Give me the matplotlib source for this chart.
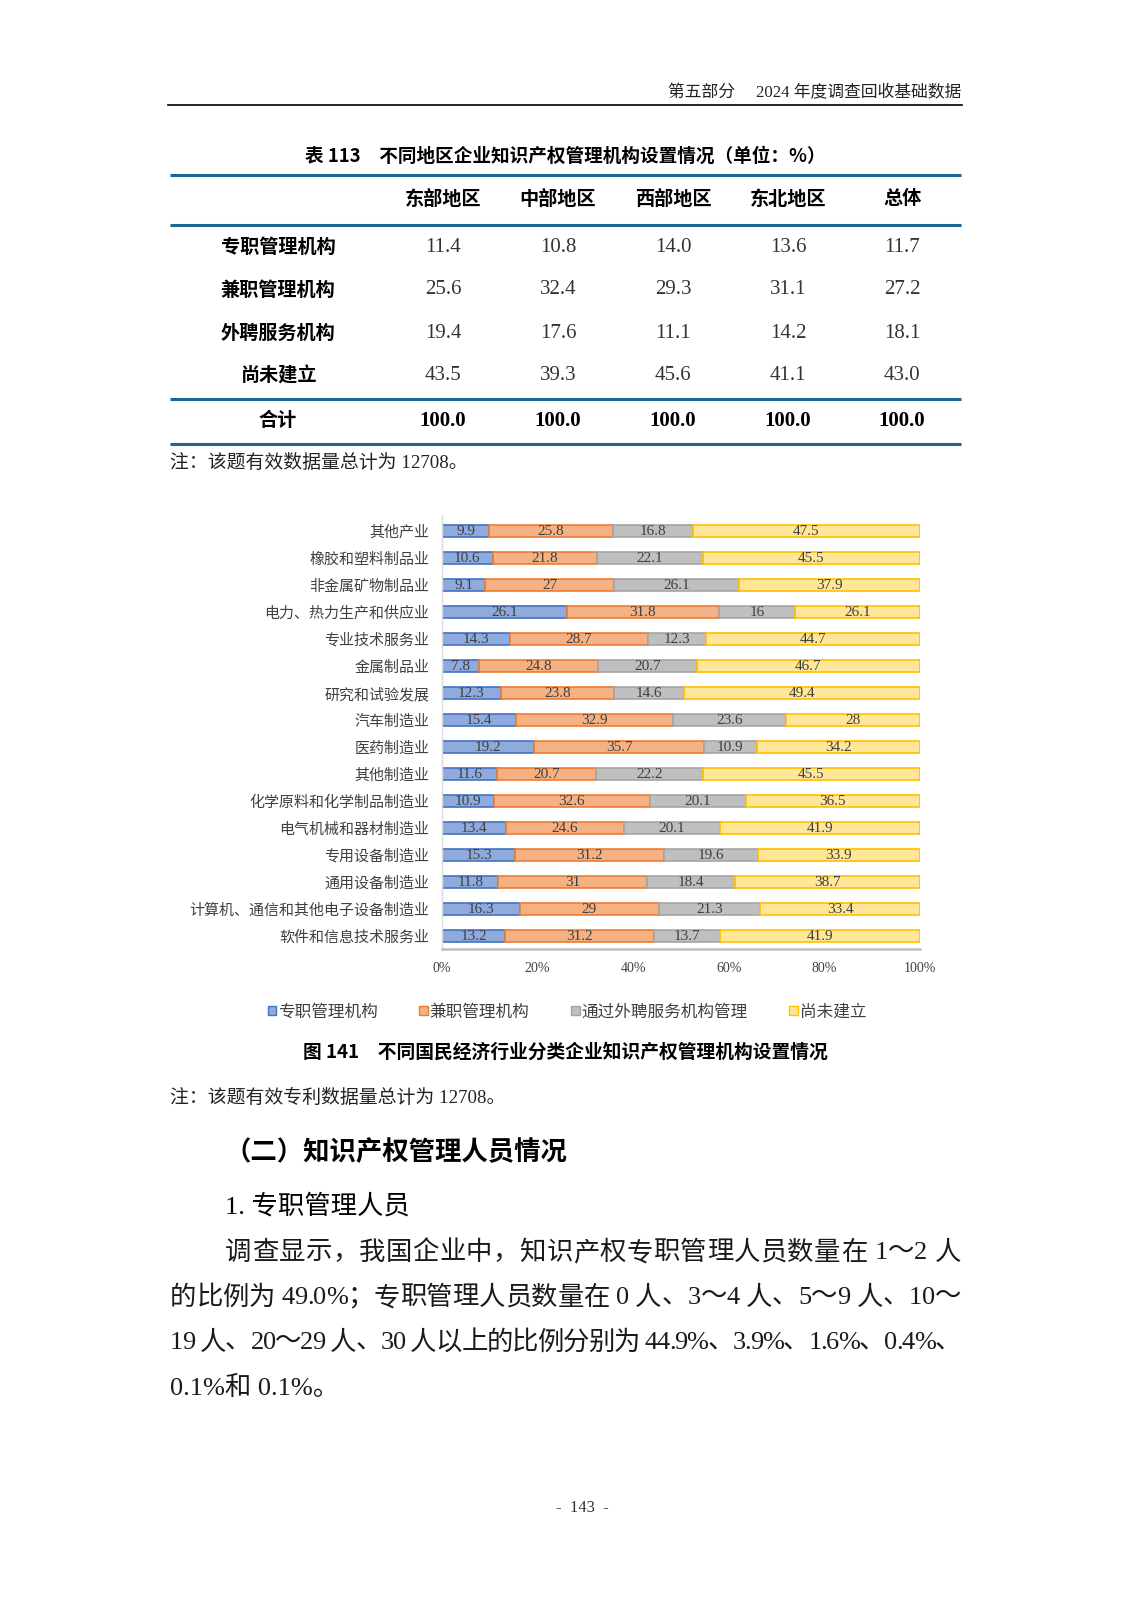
import matplotlib
matplotlib.use("Agg")
import matplotlib.pyplot as plt
from matplotlib.patches import Patch
from matplotlib.font_manager import findfont, FontProperties
from matplotlib.ft2font import FT2Font
import numpy as np

SERIF = ['Liberation Serif', 'Noto Sans CJK SC']
SANS = ['Noto Sans CJK SC', 'DejaVu Sans']
plt.rcParams['font.family'] = SERIF

# ---- table data ----
regions = ['东部地区', '中部地区', '西部地区', '东北地区', '总体']
table_rows = ['专职管理机构', '兼职管理机构', '外聘服务机构', '尚未建立']
table_vals = [
    [11.4, 10.8, 14.0, 13.6, 11.7],
    [25.6, 32.4, 29.3, 31.1, 27.2],
    [19.4, 17.6, 11.1, 14.2, 18.1],
    [43.5, 39.3, 45.6, 41.1, 43.0],
]
total_vals = [100.0, 100.0, 100.0, 100.0, 100.0]

# ---- chart data (top to bottom) ----
industries = ['其他产业', '橡胶和塑料制品业', '非金属矿物制品业', '电力、热力生产和供应业',
              '专业技术服务业', '金属制品业', '研究和试验发展', '汽车制造业', '医药制造业',
              '其他制造业', '化学原料和化学制品制造业', '电气机械和器材制造业',
              '专用设备制造业', '通用设备制造业', '计算机、通信和其他电子设备制造业',
              '软件和信息技术服务业']
series_names = ['专职管理机构', '兼职管理机构', '通过外聘服务机构管理', '尚未建立']
full_time = [9.9, 10.6, 9.1, 26.1, 14.3, 7.8, 12.3, 15.4, 19.2, 11.6, 10.9, 13.4, 15.3, 11.8, 16.3, 13.2]
part_time = [25.8, 21.8, 27, 31.8, 28.7, 24.8, 23.8, 32.9, 35.7, 20.7, 32.6, 24.6, 31.2, 31, 29, 31.2]
outsourced = [16.8, 22.1, 26.1, 16, 12.3, 20.7, 14.6, 23.6, 10.9, 22.2, 20.1, 20.1, 19.6, 18.4, 21.3, 13.7]
not_built = [47.5, 45.5, 37.9, 26.1, 44.7, 46.7, 49.4, 28, 34.2, 45.5, 36.5, 41.9, 33.9, 38.7, 33.4, 41.9]
x_ticks = [0, 20, 40, 60, 80, 100]

fills = ['#8FAADC', '#F4B183', '#BFBFBF', '#FFE699']
edges = ['#4472C4', '#ED7D31', '#A5A5A5', '#FFC000']

W, H = 1131, 1600
fig = plt.figure(figsize=(W / 100, H / 100), dpi=100)
page = fig.add_axes([0, 0, 1, 1])
page.set_xlim(0, W)
page.set_ylim(H, 0)
page.axis('off')

# fonts for measuring character advances (justified paragraph)
_ft = [FT2Font(findfont(FontProperties(family=f)), hinting_factor=1) for f in SERIF]


def advance(c, size):
    for f in _ft:
        if f.get_char_index(ord(c)):
            f.set_size(size, 100)
            return f.load_char(ord(c)).linearHoriAdvance / 65536.0
    return size * 100 / 72 * 0.5


def justified(x0, x1, y, s, size):
    widths = [advance(c, size) for c in s]
    gap = (x1 - x0 - sum(widths)) / (len(s) - 1)
    x = x0
    for c, w in zip(s, widths):
        if c != ' ':
            page.text(x, y, c, ha='left', va='center', fontsize=size, family=SERIF,
                      color='#1a1a1a')
        x += w + gap


# header
page.text(961, 93, '第五部分\u3000 2024 年度调查回收基础数据', ha='right', va='center',
          fontsize=12.1, family=SERIF, color='#222222')
page.plot([168, 962], [105, 105], color='black', lw=1.2)

# table
TB = '#1F6493'
page.text(565, 156, '表 113\u3000不同地区企业知识产权管理机构设置情况（单位：%）', ha='center',
          va='center', fontsize=13.4, fontweight='bold', family=SANS)
for y in [175, 225, 399, 444]:
    page.plot([170, 961], [y, y], color=TB, lw=2.2, solid_capstyle='butt')
col_x = [443, 558, 673, 788, 902]
for cx, r in zip(col_x, regions):
    page.text(cx, 199, r, ha='center', va='center', fontsize=13.8, fontweight='bold', family=SANS)
row_y = [247, 290, 333, 376]
for ry, name, vals in zip(row_y, table_rows, table_vals):
    page.text(278, ry, name, ha='center', va='center', fontsize=13.8, fontweight='bold', family=SANS)
    for cx, v in zip(col_x, vals):
        page.text(cx, ry, '%.1f' % v, ha='center', va='center', fontsize=15, family=SERIF,
                  color='#333333')
page.text(278, 421, '合计', ha='center', va='center', fontsize=13.8, fontweight='bold', family=SANS)
for cx, v in zip(col_x, total_vals):
    page.text(cx, 421, '%.1f' % v, ha='center', va='center', fontsize=15, fontweight='bold',
              family=SERIF)
page.text(170, 463, '注：该题有效数据量总计为 12708。', ha='left', va='center', fontsize=13.6,
          family=SERIF, color='#222222')

# chart
ax = fig.add_axes([442 / W, 1 - 949 / H, 478 / W, 434 / H])
data = np.array([full_time, part_time, outsourced, not_built])
norm = data / data.sum(axis=0) * 100
ypos = np.arange(len(industries))
left = np.zeros(len(industries))
for i in range(4):
    bars = ax.barh(ypos, norm[i], left=left, height=0.47, color=fills[i], edgecolor=edges[i],
                   linewidth=1.2, label=series_names[i])
    ax.bar_label(bars, labels=['%g' % v for v in data[i]], label_type='center', fontsize=11,
                 color='#404040', family=SERIF)
    left += norm[i]
ax.set_xlim(0, 100)
ax.set_ylim(15.48, -0.593)
ax.set_yticks(ypos)
ax.set_yticklabels(industries, fontsize=10.8, color='#404040', family=SANS)
ax.set_xticks(x_ticks)
ax.set_xticklabels(['%d%%' % t for t in x_ticks], fontsize=10, color='#404040', family=SERIF)
ax.tick_params(length=0)
ax.tick_params(axis='y', pad=9)
ax.tick_params(axis='x', pad=9)
for s in ['top', 'right']:
    ax.spines[s].set_visible(False)
ax.spines['left'].set_color('#D9D9D9')
ax.spines['left'].set_linewidth(1)
ax.spines['bottom'].set_color('#BFBFBF')
ax.spines['bottom'].set_linewidth(1.8)
ax.patch.set_visible(False)

handles = [Patch(facecolor=f, edgecolor=e, linewidth=1) for f, e in zip(fills, edges)]
fig.legend(handles, series_names, loc='center', bbox_to_anchor=(567 / W, 1 - 1012 / H), ncol=4,
           frameon=False, handlelength=0.5, handleheight=0.5, handletextpad=0.12,
           columnspacing=2.5, prop={'family': SANS, 'size': 12}, labelcolor='#404040')

page.text(565, 1052, '图 141\u3000不同国民经济行业分类企业知识产权管理机构设置情况', ha='center',
          va='center', fontsize=13.5, fontweight='bold', family=SANS)
page.text(170, 1098, '注：该题有效专利数据量总计为 12708。', ha='left', va='center', fontsize=13.6,
          family=SERIF, color='#222222')

# body text
page.text(224, 1152, '（二）知识产权管理人员情况', ha='left', va='center', fontsize=19,
          fontweight='bold', family=SANS)
page.text(225, 1206, '1. 专职管理人员', ha='left', va='center', fontsize=19, family=SERIF)
justified(225, 961, 1253, '调查显示，我国企业中，知识产权专职管理人员数量在 1～2 人', 19)
justified(170, 961, 1298, '的比例为 49.0%；专职管理人员数量在 0 人、3～4 人、5～9 人、10～', 19)
justified(170, 961, 1343, '19 人、20～29 人、30 人以上的比例分别为 44.9%、3.9%、1.6%、0.4%、', 19)
page.text(170, 1388, '0.1%和 0.1%。', ha='left', va='center', fontsize=19, family=SERIF,
          color='#1a1a1a')

page.text(582, 1508, '-  143  -', ha='center', va='center', fontsize=12, family=SERIF,
          color='#333333')

fig.savefig('out.png', dpi=100)
